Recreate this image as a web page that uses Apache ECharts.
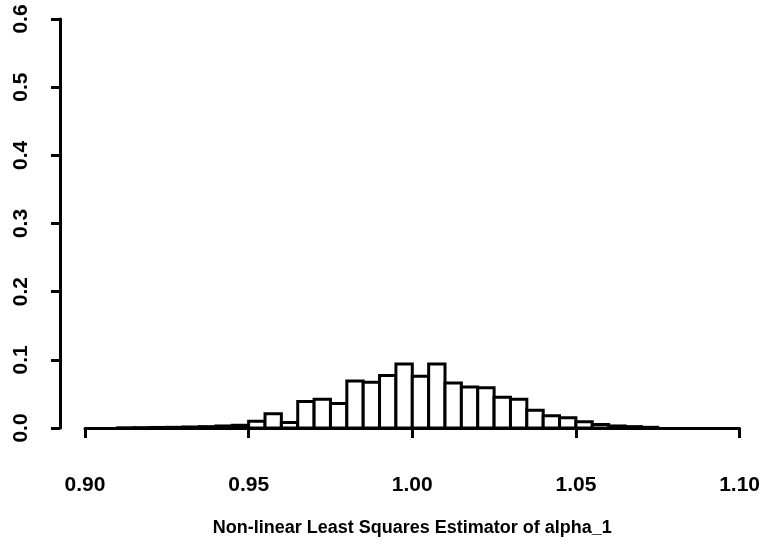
<!DOCTYPE html>
<html>
<head>
<meta charset="utf-8">
<script src="https://cdn.jsdelivr.net/npm/echarts@6/dist/echarts.min.js"></script>
<style>
  html, body { margin: 0; padding: 0; background: #fff; }
  #main { width: 763px; height: 549px; }
</style>
</head>
<body>
<div id="main"></div>
<script>
// bin left edges (width 0.005) and heights
var binStart = [0.910, 0.915, 0.920, 0.925, 0.930, 0.935, 0.940, 0.945, 0.950, 0.955,
                0.960, 0.965, 0.970, 0.975, 0.980, 0.985, 0.990, 0.995, 1.000, 1.005,
                1.010, 1.015, 1.020, 1.025, 1.030, 1.035, 1.040, 1.045, 1.050, 1.055,
                1.060, 1.065, 1.070];
var binHeight = [0.0003, 0.0005, 0.0008, 0.001, 0.0015, 0.002, 0.003, 0.004, 0.010, 0.021,
                 0.008, 0.039, 0.042, 0.036, 0.069, 0.067, 0.077, 0.094, 0.076, 0.094,
                 0.066, 0.060, 0.059, 0.045, 0.042, 0.026, 0.018, 0.015, 0.009, 0.005,
                 0.003, 0.002, 0.001];
var binWidth = 0.005;
var xTicks = [0.90, 0.95, 1.00, 1.05, 1.10];
var yTicks = [0.0, 0.1, 0.2, 0.3, 0.4, 0.5, 0.6];

var chart = echarts.init(document.getElementById('main'));

var data = binStart.map(function (s, i) {
  return [s, s + binWidth, binHeight[i]];
});

var font = 'Liberation Sans, Arial, Helvetica, sans-serif';

chart.setOption({
  animation: false,
  grid: { left: 85, right: 21, top: 19, bottom: 121 },
  xAxis: {
    type: 'value',
    min: xTicks[0],
    max: xTicks[xTicks.length - 1],
    interval: 0.05,
    offset: 17,
    name: 'Non-linear Least Squares Estimator of alpha_1',
    nameLocation: 'middle',
    nameGap: 74,
    nameTextStyle: { fontFamily: font, fontWeight: 'bold', fontSize: 18, color: '#000' },
    axisLine: { show: true, lineStyle: { color: '#000', width: 3 } },
    axisTick: { show: true, length: 10, lineStyle: { color: '#000', width: 3 } },
    axisLabel: {
      margin: 30,
      fontFamily: font,
      fontWeight: 'bold',
      fontSize: 21,
      color: '#000',
      formatter: function (v) { return v.toFixed(2); }
    },
    splitLine: { show: false }
  },
  yAxis: {
    type: 'value',
    min: yTicks[0],
    max: yTicks[yTicks.length - 1],
    interval: 0.1,
    offset: 25,
    axisLine: { show: true, lineStyle: { color: '#000', width: 3 } },
    axisTick: { show: true, length: 9, lineStyle: { color: '#000', width: 3 } },
    axisLabel: {
      margin: 28,
      rotate: 90,
      fontFamily: font,
      fontWeight: 'bold',
      fontSize: 21,
      color: '#000',
      formatter: function (v) { return v.toFixed(1); }
    },
    splitLine: { show: false }
  },
  series: [{
    type: 'custom',
    data: data,
    encode: { x: [0, 1], y: 2 },
    renderItem: function (params, api) {
      var p0 = api.coord([api.value(0), api.value(2)]);
      var p1 = api.coord([api.value(1), 0]);
      return {
        type: 'rect',
        shape: { x: p0[0], y: p0[1], width: p1[0] - p0[0], height: p1[1] - p0[1] },
        style: { fill: '#fff', stroke: '#000', lineWidth: 3 }
      };
    }
  }]
});
</script>
</body>
</html>
